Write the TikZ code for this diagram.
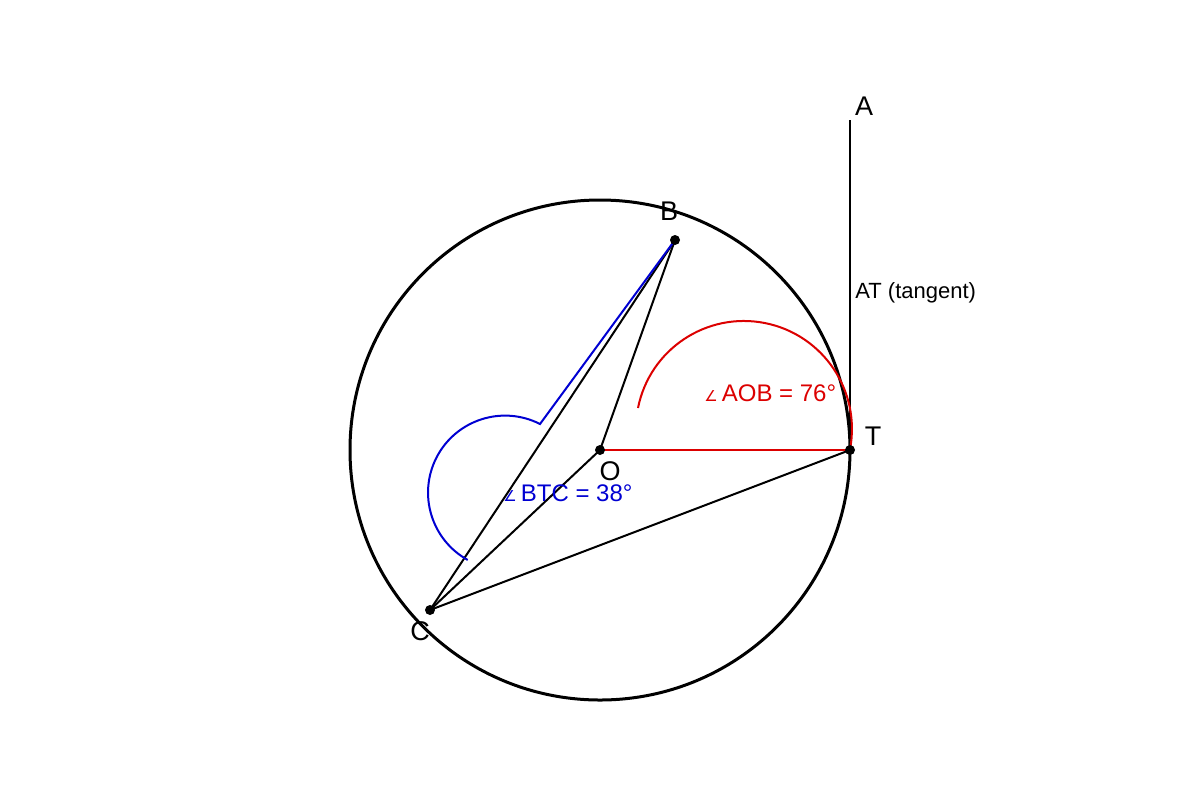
\documentclass[tikz,border=0pt]{standalone}
\usepackage{fontspec}
\setmainfont{Liberation Sans}
\newfontfamily\symfont{DejaVu Sans}
\definecolor{myred}{RGB}{220,0,0}
\definecolor{myblue}{RGB}{0,0,210}
\begin{document}
\begin{tikzpicture}[x=0.5pt,y=-0.5pt,
  lbl/.style={font=\fontsize{13.5pt}{16pt}\selectfont, inner sep=0pt},
  ang/.style={font=\fontsize{12pt}{14pt}\selectfont, inner sep=0pt},
  dot/.style={circle,fill=black,inner sep=0pt,minimum size=5pt},
  seg/.style={line width=1pt},
  note/.style={font=\fontsize{11pt}{13pt}\selectfont, inner sep=0pt}]
\useasboundingbox (0,0) rectangle (1200,800);
\coordinate (O) at (600,450);
\coordinate (T) at (850,450);
\coordinate (A) at (850,120);
\coordinate (B) at (675,240);
\coordinate (C) at (430,610);
\coordinate (Bk) at (540,424);
\coordinate (Rs) at (638,408);
% circle
\draw[line width=1.5pt] (O) circle[radius=125pt];
% tangent
\draw[seg] (A) -- (T);
% black segments
\draw[seg] (O) -- (B);
\draw[seg] (C) -- (B);
\draw[seg] (C) -- (O);
\draw[seg] (C) -- (T);
% red
\draw[seg, myred] (O) -- (T);
\draw[seg, myred] (Rs) arc[start angle=168.8, end angle=-11.2, radius=54pt];
% blue
\draw[seg, myblue] (B) -- (Bk) arc[start angle=63, end angle=241, radius=38.5pt];
% dots
\node[dot] (dO) at (O) {};
\node[dot] (dT) at (T) {};
\node[dot] (dB) at (B) {};
\node[dot] (dC) at (C) {};
% labels
\node[lbl] (lA) at (864,106) {A};
\node[lbl] (lB) at (669,211) {B};
\node[lbl] (lC) at (420,631) {C};
\node[lbl] (lO) at (610,471) {O};
\node[lbl] (lT) at (873,436) {T};
\node[note, anchor=west] (lAT) at (855,293) {AT (tangent)};
\node[ang, anchor=west, text=myred] (lAOB) at (704,393) {{\symfont\fontsize{7.5pt}{9pt}\selectfont ∠}\,AOB = 76°};
\node[ang, anchor=west, text=myblue] (lBTC) at (503,493) {{\symfont\fontsize{7.5pt}{9pt}\selectfont ∠}\,BTC = 38°};
\end{tikzpicture}
\end{document}
